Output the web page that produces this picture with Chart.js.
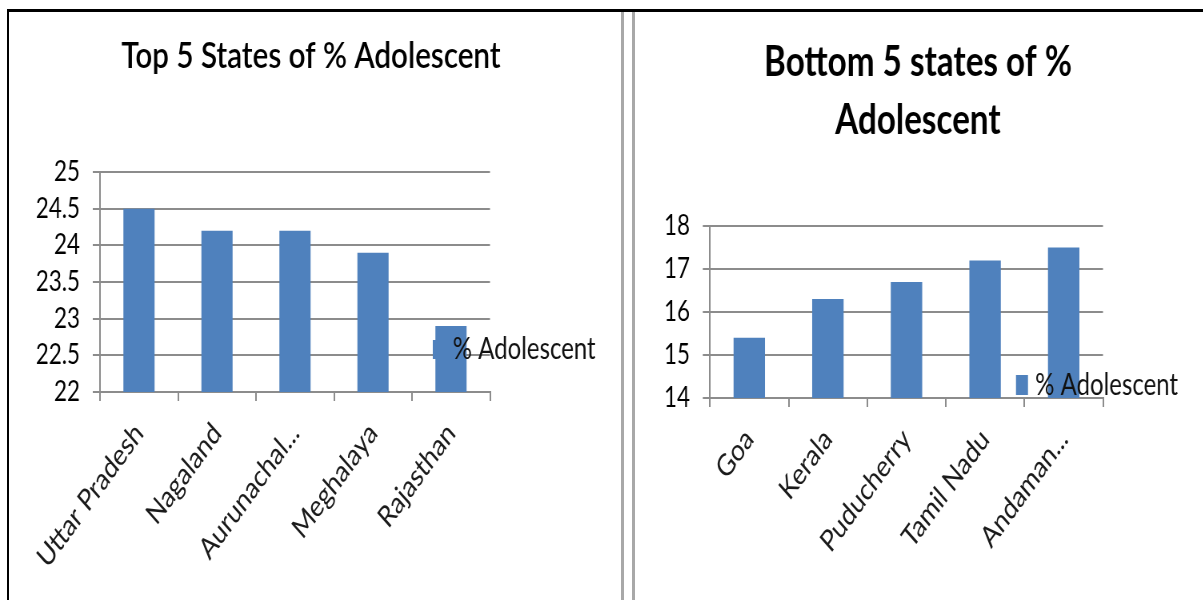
<!DOCTYPE html>
<html>
<head>
<meta charset="utf-8">
<title>% Adolescent by State</title>
<script src="https://cdn.jsdelivr.net/npm/chart.js@4.4.1/dist/chart.umd.min.js"></script>
<style>
  html, body { margin: 0; padding: 0; background: #fff; }
  body { position: relative; width: 1203px; height: 600px; overflow: hidden; }
  .frame-top { position: absolute; left: 7px; top: 9px; width: 1196px; height: 3px; background: #000; }
  .frame-left { position: absolute; left: 7px; top: 9px; width: 2px; height: 591px; background: #000; }
  .divider { position: absolute; top: 12px; width: 3px; height: 588px; background: #a8a8a8; }
  /* each chart is laid out wide and squeezed horizontally */
  .panel { position: absolute; top: 12px; height: 588px; transform: scaleX(0.8); transform-origin: 0 0; }
</style>
</head>
<body>
<div class="frame-top"></div>
<div class="frame-left"></div>
<div class="divider" style="left:621px"></div>
<div class="divider" style="left:632px"></div>
<div class="panel" style="left:12px; width:760px;"><canvas id="topChart"></canvas></div>
<div class="panel" style="left:637px; width:708px;"><canvas id="bottomChart"></canvas></div>

<script>
// Share of adolescents in the population, highest and lowest five states
const seriesName = '% Adolescent';

const topStates = ['Uttar Pradesh', 'Nagaland', 'Aurunachal...', 'Meghalaya', 'Rajasthan'];
const topAdolescentPct = [24.5, 24.2, 24.2, 23.9, 22.9];
const topTicks = [22, 22.5, 23, 23.5, 24, 24.5, 25];

const bottomStates = ['Goa', 'Kerala', 'Puducherry', 'Tamil Nadu', 'Andaman...'];
const bottomAdolescentPct = [15.4, 16.3, 16.7, 17.2, 17.5];
const bottomTicks = [14, 15, 16, 17, 18];

const FONT = 'Lato, "Open Sans", "DejaVu Sans", sans-serif';
const BAR_BLUE = '#4f81bd';
const GRID_GREY = '#8c8c8c';

// Legend drawn over the plot, next to the last column
const insideLegend = {
  id: 'insideLegend',
  afterDatasetsDraw(chart, args, opts) {
    const { ctx, chartArea } = chart;
    const ds = chart.data.datasets[0];
    const x = chartArea.right + opts.dx;
    const y = chartArea.top + opts.dy;
    ctx.save();
    ctx.fillStyle = ds.backgroundColor;
    ctx.fillRect(x, y - opts.boxH / 2, opts.boxW, opts.boxH);
    ctx.font = opts.font;
    ctx.fillStyle = '#111';
    ctx.textBaseline = 'middle';
    ctx.textAlign = 'left';
    ctx.fillText(ds.label, x + opts.gap, y);
    ctx.restore();
  }
};

function makeChart(canvasId, cfg) {
  const ticks = cfg.ticks;
  return new Chart(document.getElementById(canvasId), {
    type: 'bar',
    data: {
      labels: cfg.labels,
      datasets: [{
        label: seriesName,
        data: cfg.values,
        backgroundColor: BAR_BLUE,
        borderWidth: 0,
        barPercentage: 0.4,
        categoryPercentage: 1,
        yAxisID: 'y'
      }]
    },
    plugins: [insideLegend],
    options: {
      responsive: true,
      maintainAspectRatio: false,
      animation: false,
      events: [],
      layout: { padding: { left: 0, right: cfg.padRight, top: 0, bottom: 0 } },
      plugins: {
        legend: { display: false },
        tooltip: { enabled: false },
        title: {
          display: true,
          text: cfg.title,
          color: '#000',
          font: { family: FONT, size: cfg.titleSize, weight: cfg.titleWeight, lineHeight: cfg.titleLineHeight },
          padding: { top: cfg.titlePadTop, bottom: cfg.titlePadBottom }
        },
        insideLegend: cfg.legend
      },
      scales: {
        x: {
          grid: { display: true, drawOnChartArea: false, drawTicks: true, tickLength: 9, color: GRID_GREY, lineWidth: 2 },
          border: { display: true, color: GRID_GREY, width: 2 },
          ticks: {
            autoSkip: false,
            minRotation: 48,
            maxRotation: 48,
            padding: 15,
            color: '#1a1a1a',
            font: { family: FONT, size: 30 }
          },
          afterFit(scale) { scale.height = cfg.xAxisHeight; }
        },
        y: {
          min: ticks[0],
          max: ticks[ticks.length - 1],
          ticks: {
            stepSize: ticks[1] - ticks[0],
            padding: 16,
            color: '#000',
            font: { family: FONT, size: 28 },
            callback: (v) => String(v)
          },
          grid: { color: GRID_GREY, lineWidth: 2, tickLength: 9 },
          border: { display: true, color: GRID_GREY, width: 2 },
          afterFit(scale) { scale.width = cfg.yAxisWidth; }
        },
        // empty strip on the right that leaves room for the legend text
        legendRoom: {
          type: 'linear',
          position: 'right',
          display: true,
          grid: { display: false },
          border: { display: false },
          ticks: { display: false },
          afterFit(scale) { scale.width = cfg.legendRoom; }
        }
      }
    }
  });
}

makeChart('topChart', {
  labels: topStates,
  values: topAdolescentPct,
  ticks: topTicks,
  title: 'Top 5 States of % Adolescent',
  titleSize: 37,
  titleWeight: 600,
  titleLineHeight: 1.2,
  titlePadTop: 22,
  titlePadBottom: 93.6,
  padRight: 12.5,
  legendRoom: 150,
  yAxisWidth: 110,
  xAxisHeight: 208,
  legend: { dx: -71.5, dy: 177.5, boxW: 15, boxH: 19, gap: 25, font: '30px ' + FONT }
});

makeChart('bottomChart', {
  labels: bottomStates,
  values: bottomAdolescentPct,
  ticks: bottomTicks,
  title: ['Bottom 5 states of %', 'Adolescent'],
  titleSize: 41.5,
  titleWeight: 'bold',
  titleLineHeight: 1.4,
  titlePadTop: 21.5,
  titlePadBottom: 76.3,
  padRight: 5.5,
  legendRoom: 120,
  yAxisWidth: 91.25,
  xAxisHeight: 202,
  legend: { dx: -108.75, dy: 159, boxW: 15, boxH: 20, gap: 24, font: '30px ' + FONT }
});
</script>
</body>
</html>
